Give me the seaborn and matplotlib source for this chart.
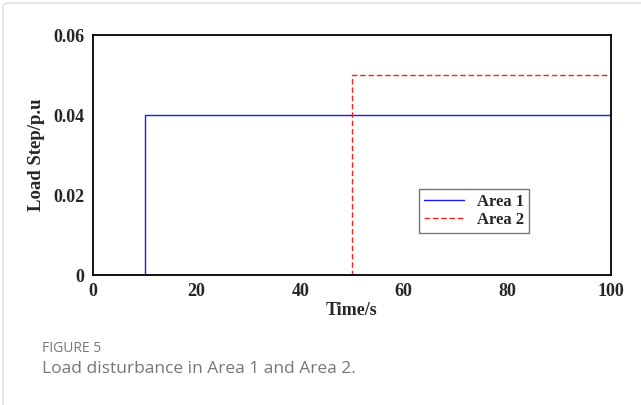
import matplotlib
matplotlib.use("Agg")
import matplotlib.pyplot as plt
import seaborn as sns
import pandas as pd
from matplotlib.ticker import MultipleLocator
from matplotlib.patches import FancyBboxPatch

time = [0, 10, 50, 100]
area1 = [0, 0.04, 0.04, 0.04]
area2 = [0, 0, 0.05, 0.05]
series_names = ["Area 1", "Area 2"]
x_ticks = [0, 20, 40, 60, 80, 100]
y_ticks = [0, 0.02, 0.04, 0.06]
y_tick_labels = ["0", "0.02", "0.04", "0.06"]

df = pd.DataFrame({
    "t": time * 2,
    "v": area1 + area2,
    "s": [series_names[0]] * len(time) + [series_names[1]] * len(time),
})

sns.set_style("white")
plt.rcParams["font.family"] = ["Liberation Serif", "DejaVu Serif"]

fig = plt.figure(figsize=(6.41, 4.05), dpi=100)
ax = fig.add_axes([93 / 641, 1 - 275 / 405, 518 / 641, 240 / 405])

sns.lineplot(data=df, x="t", y="v", hue="s", style="s",
             palette={"Area 1": "#1a1aff", "Area 2": "#ff2020"},
             dashes={"Area 1": "", "Area 2": (4, 2)},
             drawstyle="steps-post", linewidth=1.0, ax=ax, legend=True)

ax.set_xlim(0, 100)
ax.set_ylim(0, 0.06)
ax.set_xticks(x_ticks)
ax.set_xticklabels([str(v) for v in x_ticks], fontsize=13, fontweight="bold")
ax.set_yticks(y_ticks)
ax.set_yticklabels(y_tick_labels, fontsize=13, fontweight="bold")
ax.xaxis.set_minor_locator(MultipleLocator(10))
ax.yaxis.set_minor_locator(MultipleLocator(0.01))
ax.tick_params(which="both", direction="in", top=False, right=False, length=4, width=0.8)
ax.tick_params(axis="x", pad=6)
ax.tick_params(axis="y", pad=6)
for sp in ax.spines.values():
    sp.set_linewidth(1.3)
    sp.set_color("black")
ax.set_xlabel("Time/s", fontsize=13, fontweight="bold", labelpad=1)
ax.set_ylabel("Load Step/p.u", fontsize=13.5, fontweight="bold", labelpad=6)

h, l = ax.get_legend_handles_labels()
leg = ax.legend(h, l, loc="center", bbox_to_anchor=(0.735, 0.267),
                prop={"family": "Liberation Serif", "weight": "bold", "size": 12},
                frameon=True, fancybox=False, edgecolor="#555555",
                handlelength=2.4, borderpad=0.3, labelspacing=0.15, handletextpad=0.8)
leg.get_frame().set_linewidth(1.0)

fig.text(42 / 641, 1 - 349 / 405, "FIGURE 5", fontsize=10, color="#777777",
         family="Open Sans", va="center", ha="left")
fig.text(42 / 641, 1 - 369 / 405, "Load disturbance in Area 1 and Area 2.", fontsize=12.5,
         color="#777777", family="Open Sans", va="center", ha="left")

border = FancyBboxPatch((3 / 641, -0.05), 1.2, 1.05 - 3 / 405, transform=fig.transFigure,
                        boxstyle="round,pad=0,rounding_size=0.01", fill=False,
                        edgecolor="#dddddd", linewidth=1.0, clip_on=False)
fig.patches.append(border)

fig.savefig("out.png", dpi=100)
